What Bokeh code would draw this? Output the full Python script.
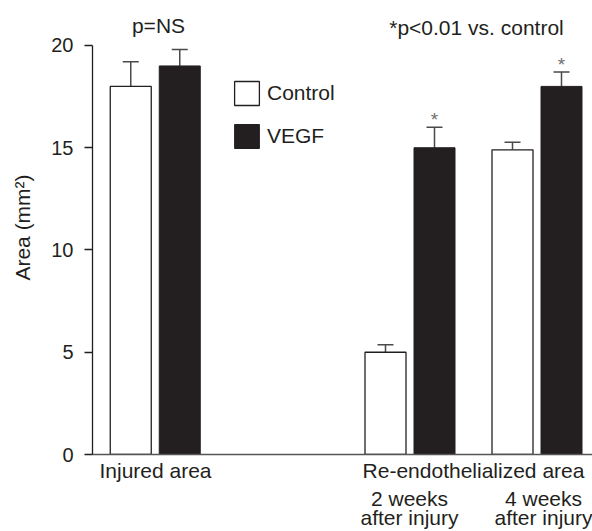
from bokeh.plotting import figure
from bokeh.models import FixedTicker, Legend, LegendItem, LinearAxis
from bokeh.embed import file_html
from bokeh.resources import INLINE
from bokeh.core.properties import value

# ---------------- data ----------------
conditions = ["Injured area", "2 weeks after injury", "4 weeks after injury"]
control_mean = [18.0, 5.0, 14.9]
control_sem = [1.2, 0.37, 0.37]
vegf_mean = [19.0, 15.0, 18.0]
vegf_sem = [0.8, 1.0, 0.7]
vegf_significant = [False, True, True]
y_ticks = [0, 5, 10, 15, 20]
area_labels = ["Injured area", "Re-endothelialized area"]
week_labels = ["2 weeks\nafter injury", "4 weeks\nafter injury"]
note_ns = "p=NS"
note_sig = "*p<0.01 vs. control"

# ---------------- layout ----------------
group_x = [12.55, 63.5, 88.9]
area_label_x = [12.6, 76.2]
week_label_x = [63.4, 90.6]
offset = 4.9
bar_w = 8.2
cap_half = 1.6
INK = "#231f20"
ERR = "#4a4a4a"
FONT = "Liberation Sans"

ctrl_x = [g - offset for g in group_x]
vegf_x = [g + offset for g in group_x]

p = figure(width=592, height=531, x_range=(0, 100), y_range=(0, 22.2),
           output_backend="svg", toolbar_location=None,
           min_border_left=92, min_border_right=0, min_border_top=0, min_border_bottom=76)
p.outline_line_color = None
p.xgrid.visible = False
p.ygrid.visible = False
p.background_fill_color = "white"
p.border_fill_color = "white"

# error bars (upper only)
for xs, m, s in ((ctrl_x, control_mean, control_sem), (vegf_x, vegf_mean, vegf_sem)):
    tops = [a + b for a, b in zip(m, s)]
    p.segment(x0=xs, y0=m, x1=xs, y1=tops, line_color=ERR, line_width=1.5)
    p.segment(x0=[x - cap_half for x in xs], y0=tops, x1=[x + cap_half for x in xs], y1=tops,
              line_color=ERR, line_width=1.5)

r_ctrl = p.vbar(x=ctrl_x, top=control_mean, bottom=0, width=bar_w,
                fill_color="white", line_color=INK, line_width=1.3)
r_vegf = p.vbar(x=vegf_x, top=vegf_mean, bottom=0, width=bar_w,
                fill_color=INK, line_color=INK, line_width=1.0)

# significance stars
sx = [x for x, s in zip(vegf_x, vegf_significant) if s]
sy = [m + e for m, e, s in zip(vegf_mean, vegf_sem, vegf_significant) if s]
p.text(x=sx, y=sy, text=["*"] * len(sx), text_align="center", text_baseline="bottom",
       y_offset=3, text_font=value(FONT), text_font_size="19px", text_color="#6f6f6f")

# notes on top
p.text(x=[13.2], y=[20.98], text=[note_ns], text_align="center", text_baseline="middle",
       text_font=value(FONT), text_font_size="21px", text_color=INK)
p.text(x=[76.8], y=[20.88], text=[note_sig], text_align="center", text_baseline="middle",
       text_font=value(FONT), text_font_size="21px", text_color=INK)

# y axis
ya = p.yaxis[0]
ya.ticker = FixedTicker(ticks=y_ticks)
ya.bounds = (0, 20)
ya.axis_line_color = INK
ya.axis_line_width = 1.3
ya.major_tick_line_color = INK
ya.major_tick_line_width = 1.3
ya.major_tick_out = 8
ya.major_tick_in = 0
ya.minor_tick_out = 0
ya.minor_tick_in = 0
ya.minor_tick_line_color = None
ya.major_label_standoff = 11
ya.major_label_text_font = FONT
ya.major_label_text_font_size = "20px"
ya.major_label_text_color = INK
ya.axis_label = "Area (mm²)"
ya.axis_label_text_font = FONT
ya.axis_label_text_font_size = "21px"
ya.axis_label_text_font_style = "normal"
ya.axis_label_text_color = INK
ya.axis_label_standoff = 14

# x axis, first row: area labels
xa = p.xaxis[0]
xa.ticker = FixedTicker(ticks=area_label_x)
xa.major_label_overrides = dict(zip(area_label_x, area_labels))
xa.axis_line_color = "#555555"
xa.axis_line_width = 1.5
xa.major_tick_line_color = None
xa.minor_tick_line_color = None
xa.major_tick_out = 0
xa.major_tick_in = 0
xa.minor_tick_out = 0
xa.minor_tick_in = 0
xa.major_label_standoff = 4
xa.major_label_text_font = FONT
xa.major_label_text_font_size = "21px"
xa.major_label_text_color = INK
xa.major_label_text_line_height = 1.0

# second row: time points
xb = LinearAxis(ticker=FixedTicker(ticks=week_label_x),
                major_label_overrides=dict(zip(week_label_x, week_labels)),
                axis_line_color=None, major_tick_line_color=None, minor_tick_line_color=None,
                major_tick_out=0, major_tick_in=0, minor_tick_out=0, minor_tick_in=0,
                major_label_standoff=2, major_label_text_font=FONT,
                major_label_text_font_size="21px", major_label_text_color=INK,
                major_label_text_line_height=0.833)
p.add_layout(xb, "below")

legend = Legend(items=[LegendItem(label="Control", renderers=[r_ctrl]),
                       LegendItem(label="VEGF", renderers=[r_vegf])],
                location=(139, 303), glyph_width=31, glyph_height=30, label_height=30,
                spacing=13, label_standoff=5, padding=0, margin=0,
                border_line_color=None, background_fill_alpha=0,
                label_text_font=FONT, label_text_font_size="21px", label_text_color=INK)
p.add_layout(legend)

open("out.html", "w").write(file_html(p, INLINE))
